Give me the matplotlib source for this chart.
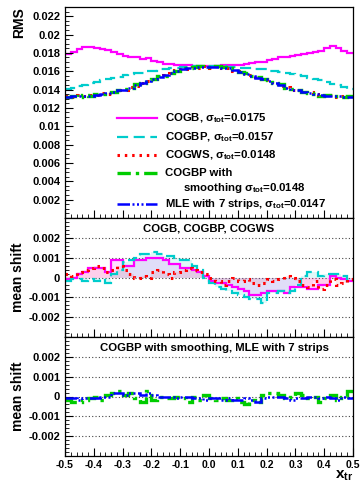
import numpy as np
import matplotlib
matplotlib.use("Agg")
import matplotlib.pyplot as plt
from matplotlib.ticker import MultipleLocator, FixedLocator

plt.rcParams['font.family'] = ['Liberation Sans', 'DejaVu Sans']
plt.rcParams['font.weight'] = 'bold'
plt.rcParams['axes.unicode_minus'] = False
plt.rcParams['mathtext.fontset'] = 'custom'
plt.rcParams['mathtext.rm'] = 'Liberation Sans:bold'
plt.rcParams['mathtext.it'] = 'Liberation Sans:bold'
plt.rcParams['mathtext.bf'] = 'Liberation Sans:bold'

# ---------------- data ----------------
x_min, x_max, n_bins = -0.5, 0.5, 50

rms_cogb = [0.0179, 0.0181, 0.0184, 0.0186, 0.0186, 0.0185, 0.0184, 0.0183, 0.0181, 0.0179,
            0.0177, 0.0175, 0.0176, 0.0173, 0.0174, 0.0171, 0.0170, 0.0168, 0.0168, 0.0167,
            0.0167, 0.0167, 0.0166, 0.0166, 0.0166, 0.0166, 0.0166, 0.0167, 0.0167, 0.0167,
            0.0167, 0.0168, 0.0169, 0.0170, 0.0170, 0.0172, 0.0173, 0.0175, 0.0176, 0.0177,
            0.0178, 0.0179, 0.0180, 0.0181, 0.0182, 0.0185, 0.0187, 0.0185, 0.0182, 0.0180]
rms_cogbp = [0.0141, 0.0142, 0.0144, 0.0145, 0.0147, 0.0148, 0.0150, 0.0151, 0.0153, 0.0154,
             0.0156, 0.0157, 0.0158, 0.0158, 0.0160, 0.0160, 0.0162, 0.0162, 0.0163, 0.0164,
             0.0165, 0.0165, 0.0166, 0.0166, 0.0166, 0.0166, 0.0166, 0.0166, 0.0165, 0.0165,
             0.0164, 0.0163, 0.0163, 0.0162, 0.0162, 0.0160, 0.0160, 0.0159, 0.0158, 0.0157,
             0.0156, 0.0155, 0.0153, 0.0151, 0.0150, 0.0148, 0.0146, 0.0145, 0.0143, 0.0141]
rms_cogws = [0.0133, 0.0132, 0.0134, 0.0133, 0.0134, 0.0134, 0.0136, 0.0135, 0.0137, 0.0140,
             0.0140, 0.0143, 0.0144, 0.0147, 0.0149, 0.0151, 0.0155, 0.0156, 0.0158, 0.0161,
             0.0162, 0.0162, 0.0165, 0.0164, 0.0166, 0.0164, 0.0166, 0.0163, 0.0164, 0.0160,
             0.0160, 0.0156, 0.0156, 0.0152, 0.0152, 0.0148, 0.0148, 0.0144, 0.0143, 0.0140,
             0.0140, 0.0137, 0.0137, 0.0135, 0.0134, 0.0133, 0.0134, 0.0132, 0.0133, 0.0133]
rms_smooth = [0.0132, 0.0133, 0.0132, 0.0134, 0.0133, 0.0135, 0.0135, 0.0137, 0.0137, 0.0139,
              0.0141, 0.0142, 0.0146, 0.0147, 0.0150, 0.0152, 0.0155, 0.0155, 0.0158, 0.0160,
              0.0163, 0.0163, 0.0165, 0.0166, 0.0165, 0.0165, 0.0166, 0.0165, 0.0164, 0.0162,
              0.0159, 0.0158, 0.0155, 0.0154, 0.0151, 0.0150, 0.0147, 0.0146, 0.0142, 0.0141,
              0.0139, 0.0137, 0.0136, 0.0135, 0.0133, 0.0134, 0.0133, 0.0133, 0.0132, 0.0133]
rms_mle = [0.0132, 0.0133, 0.0133, 0.0133, 0.0133, 0.0134, 0.0135, 0.0136, 0.0137, 0.0139,
           0.0140, 0.0142, 0.0145, 0.0147, 0.0149, 0.0152, 0.0154, 0.0156, 0.0158, 0.0160,
           0.0162, 0.0163, 0.0164, 0.0165, 0.0165, 0.0165, 0.0165, 0.0164, 0.0163, 0.0161,
           0.0159, 0.0157, 0.0155, 0.0153, 0.0151, 0.0149, 0.0147, 0.0145, 0.0142, 0.0140,
           0.0139, 0.0137, 0.0136, 0.0135, 0.0134, 0.0133, 0.0133, 0.0133, 0.0132, 0.0132]

shift_cogb = [-0.0001, 0.0, 0.0002, 0.0003, 0.0005, 0.0005, 0.0005, 0.0003, 0.0009, 0.0009,
              0.0006, 0.0006, 0.0009, 0.0009, 0.0010, 0.0010, 0.0010, 0.0009, 0.0007, 0.0007,
              0.0005, 0.0005, 0.0004, 0.0003, 0.0001, -0.0002, -0.0003, -0.0003, -0.0004, -0.0005,
              -0.0006, -0.0007, -0.0009, -0.0009, -0.0008, -0.0007, -0.0007, -0.0007, -0.0008, -0.0005,
              -0.0005, -0.0005, -0.0006, -0.0006, -0.0004, -0.0004, 0.0001, 0.0, -0.0001, -0.0002]
shift_cogbp = [-0.0002, -0.0001, -0.0001, -0.0002, -0.0001, -0.0002, -0.0001, -0.0003, 0.0002, 0.0004,
               0.0008, 0.0009, 0.0010, 0.0012, 0.0012, 0.0013, 0.0012, 0.0011, 0.0011, 0.0010,
               0.0009, 0.0009, 0.0006, 0.0004, 0.0, -0.0003, -0.0005, -0.0006, -0.0007, -0.0008,
               -0.0009, -0.0010, -0.0011, -0.0011, -0.0013, -0.0008, -0.0008, -0.0007, -0.0008, -0.0007,
               -0.0004, 0.0001, 0.0003, 0.0003, 0.0001, 0.0002, 0.0002, 0.0002, 0.0001, -0.0002]
shift_cogws = [0.0002, 0.0001, 0.0003, 0.0004, 0.0005, 0.0006, 0.0005, 0.0003, 0.0004, 0.0006,
               0.0004, 0.0002, 0.0, 0.0001, 0.0, 0.0003, 0.0004, 0.0002, 0.0, 0.0003,
               0.0004, 0.0005, 0.0004, 0.0003, 0.0002, 0.0, -0.0002, -0.0004, -0.0002, 0.0,
               -0.0002, -0.0001, -0.0003, -0.0004, -0.0003, -0.0001, -0.0002, -0.0001, 0.0001, 0.0,
               -0.0002, -0.0004, -0.0005, -0.0002, -0.0006, -0.0004, -0.0001, -0.0004, -0.0003, -0.0001]
shift_smooth = [-0.0002, -0.0003, -0.0003, -0.0002, -0.0001, 0.0, -0.0002, 0.0001, 0.0002, 0.0003,
                0.0001, 0.0002, -0.0001, -0.0003, 0.0003, -0.0002, 0.0, -0.0001, -0.0001, 0.0,
                -0.0001, -0.0003, 0.0, -0.0002, 0.0001, -0.0001, -0.0002, -0.0001, -0.0002, -0.0001,
                -0.0003, -0.0004, -0.0002, -0.0003, 0.0001, 0.0002, 0.0002, 0.0001, -0.0001, 0.0,
                0.0002, 0.0001, -0.0001, 0.0, -0.0003, -0.0001, 0.0001, -0.0002, 0.0, 0.0003]
shift_mle = [-0.0001, -0.0001, -0.0002, -0.0001, -0.0001, -0.0001, 0.0, 0.0, 0.0002, 0.0002,
             0.0001, 0.0002, 0.0002, 0.0001, 0.0002, 0.0001, 0.0, 0.0, 0.0, -0.0001,
             0.0, 0.0, -0.0001, -0.0001, -0.0002, -0.0001, -0.0001, -0.0002, -0.0001, -0.0002,
             -0.0002, -0.0001, -0.0002, -0.0003, -0.0001, 0.0, 0.0, 0.0, -0.0001, -0.0002,
             -0.0001, -0.0001, 0.0, 0.0, -0.0001, 0.0, -0.0001, -0.0002, 0.0, -0.0001]

labels = ["COGB, $\\sigma_{tot}$=0.0175",
          "COGBP, $\\sigma_{tot}$=0.0157",
          "COGWS, $\\sigma_{tot}$=0.0148",
          "COGBP with",
          "MLE with 7 strips, $\\sigma_{tot}$=0.0147"]
label_smooth2 = "smoothing $\\sigma_{tot}$=0.0148"
title2 = "COGB, COGBP, COGWS"
title3 = "COGBP with smoothing, MLE with 7 strips"

edges = np.linspace(x_min, x_max, n_bins + 1)

# ---------------- styles ----------------
C_MAG = '#ff00ff'
C_CYAN = '#00cccc'
C_RED = '#ff0000'
C_GREEN = '#00cc00'
C_BLUE = '#0000ff'
st_cogb = dict(color=C_MAG, lw=1.6, ls='-')
st_cogbp = dict(color=C_CYAN, lw=1.6, ls=(0, (5, 2.5)))
st_cogws = dict(color=C_RED, lw=2.2, ls=(0, (0.8, 1.6)))
st_smooth = dict(color=C_GREEN, lw=2.4, ls=(0, (4, 1.5, 1, 1.5)))
st_mle = dict(color=C_BLUE, lw=1.8, ls=(0, (5, 1, 0.8, 1, 0.8, 1, 0.8, 1)))

fig = plt.figure(figsize=(3.62, 4.82), dpi=100)
L, R = 65 / 362, 353 / 362
def fy(p):
    return 1 - p / 482
ax1 = fig.add_axes([L, fy(218), R - L, fy(7) - fy(218)])
ax2 = fig.add_axes([L, fy(337), R - L, fy(218) - fy(337)])
ax3 = fig.add_axes([L, fy(456), R - L, fy(337) - fy(456)])

for ax in (ax1, ax2, ax3):
    ax.set_xlim(x_min, x_max)
    ax.xaxis.set_major_locator(MultipleLocator(0.1))
    ax.xaxis.set_minor_locator(MultipleLocator(0.02))
    ax.tick_params(axis='both', which='major', direction='in', length=6, width=0.8,
                   labelsize=8, top=False, right=False)
    ax.tick_params(axis='both', which='minor', direction='in', length=3, width=0.6,
                   top=False, right=False)
    for s in ax.spines.values():
        s.set_linewidth(0.9)
    if ax is not ax3:
        ax.tick_params(axis='x', labelbottom=False)

# ---- top panel ----
ax1.stairs(rms_cogb, edges, baseline=None, **st_cogb)
ax1.stairs(rms_cogbp, edges, baseline=None, **st_cogbp)
ax1.stairs(rms_cogws, edges, baseline=None, **st_cogws)
ax1.stairs(rms_smooth, edges, baseline=None, **st_smooth)
ax1.stairs(rms_mle, edges, baseline=None, **st_mle)
ax1.set_ylim(0, 0.023)
ax1.yaxis.set_major_locator(FixedLocator([0.002, 0.004, 0.006, 0.008, 0.01, 0.012,
                                          0.014, 0.016, 0.018, 0.02, 0.022]))
ax1.yaxis.set_minor_locator(MultipleLocator(0.0005))
ax1.yaxis.set_major_formatter(matplotlib.ticker.FuncFormatter(lambda v, p: ('%.3f' % v).rstrip('0').rstrip('.')))
ax1.set_ylabel("RMS", fontsize=10, fontweight='bold', loc='top', labelpad=4)

# manual legend
leg_rows = [(118, st_cogb, labels[0]), (137, st_cogbp, labels[1]), (155, st_cogws, labels[2]),
            (173, st_smooth, labels[3]), (204, st_mle, labels[4])]
tr = fig.transFigure
for ypix, st, lab in leg_rows:
    fig.lines.append(matplotlib.lines.Line2D([117 / 362, 157 / 362], [fy(ypix), fy(ypix)],
                                             transform=tr, **st))
    fig.text(165 / 362, fy(ypix), lab, fontsize=8.2, fontweight='bold', va='center', ha='left')
fig.text(183 / 362, fy(188), label_smooth2, fontsize=8.2, fontweight='bold', va='center', ha='left')

# ---- middle panel ----
ax2.stairs(shift_cogb, edges, baseline=0, fill=True, color=C_MAG, alpha=0.12, lw=0)
ax2.stairs(shift_cogbp, edges, baseline=0, fill=True, color=C_CYAN, alpha=0.12, lw=0)
ax2.stairs(shift_cogws, edges, baseline=0, fill=True, color=C_RED, alpha=0.08, lw=0)
ax2.stairs(shift_cogb, edges, baseline=None, **st_cogb)
ax2.stairs(shift_cogbp, edges, baseline=None, **st_cogbp)
ax2.stairs(shift_cogws, edges, baseline=None, **st_cogws)

# ---- bottom panel ----
ax3.stairs(shift_smooth, edges, baseline=None, **st_smooth)
ax3.stairs(shift_mle, edges, baseline=None, **st_mle)

for ax, title in ((ax2, title2), (ax3, title3)):
    ax.set_ylim(-0.003, 0.003)
    ax.yaxis.set_major_locator(FixedLocator([-0.002, -0.001, 0, 0.001, 0.002]))
    ax.yaxis.set_minor_locator(MultipleLocator(0.0002))
    ax.yaxis.set_major_formatter(matplotlib.ticker.FuncFormatter(
        lambda v, p: '0' if abs(v) < 1e-9 else ('%.3f' % v)))
    ax.grid(axis='y', which='major', color='#444444', ls=(0, (1, 2)), lw=0.8)
    ax.set_axisbelow(True)
    ax.set_ylabel("mean shift", fontsize=10, fontweight='bold', labelpad=2)
    ax.text(0.5 if ax is ax2 else 0.52, 0.91, title, transform=ax.transAxes, ha='center',
            va='center', fontsize=8.2, fontweight='bold')

ax3.tick_params(axis='x', labelsize=7.5, pad=3)
ax3.set_xlabel("$\\mathbf{x}_{\\mathbf{tr}}$", fontsize=11, loc='right', labelpad=-1)

fig.savefig("out.png", dpi=100)
